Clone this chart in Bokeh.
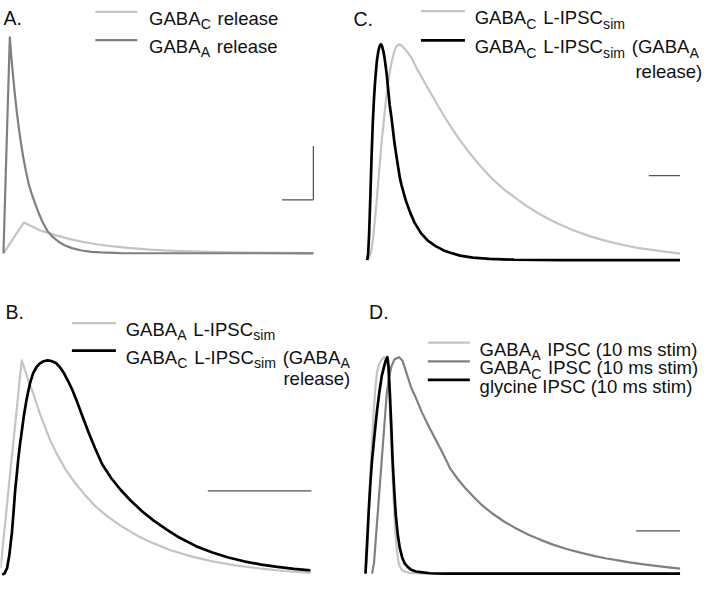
from bokeh.plotting import figure
from bokeh.models import Range1d, Label
from bokeh.layouts import column, row
from bokeh.embed import file_html
from bokeh.resources import INLINE

# ---------------- data (time in ms, amplitude normalised to peak) ----------------
# Panel A: transmitter release profiles
a_t_gabaA_rel = [0, 6.5, 8, 10, 12, 14, 16, 18, 20.5, 23, 26, 29, 32, 36, 40, 45, 50, 56, 63, 70, 80, 90, 100, 120, 317]
a_y_gabaA_rel = [0, 1.0, 0.915, 0.814, 0.724, 0.643, 0.572, 0.508, 0.439, 0.38, 0.318, 0.274, 0.236, 0.187, 0.145,
                 0.104, 0.077, 0.055, 0.036, 0.024, 0.013, 0.007, 0.004, 0.001, 0]
a_t_gabaC_rel = [0, 10, 21, 25, 30, 37, 45, 54, 65, 80, 95, 110, 130, 150, 175, 200, 230, 260, 290, 317]
a_y_gabaC_rel = [0, 0.068, 0.143, 0.134, 0.123, 0.107, 0.096, 0.083, 0.069, 0.054, 0.042, 0.033, 0.024, 0.017,
                 0.011, 0.0075, 0.0045, 0.0028, 0.0017, 0.001]

# Panel B
b_t_gabaA = [0, 5, 10, 15, 19, 21.7, 25, 29, 33.3, 40, 50, 58, 66.7, 76, 86.7, 98, 110, 125, 140, 156, 173.3, 195,
             216.7, 240, 266.7, 290, 317]
b_y_gabaA = [0.03, 0.25, 0.48, 0.7, 0.88, 1.0, 0.955, 0.9, 0.848, 0.755, 0.636, 0.56, 0.49, 0.43, 0.37, 0.315, 0.27,
             0.222, 0.182, 0.147, 0.115, 0.085, 0.062, 0.043, 0.028, 0.017, 0.008]
b_t_gabaC = [1.7, 4, 6.7, 9, 11.7, 13.3, 15, 16.7, 18.3, 20, 21.7, 24, 26.7, 30, 33.3, 36.7, 40, 44, 48.3, 52, 56.7,
             61, 65, 69, 73.3, 78, 83.3, 90, 96.7, 104, 113.3, 123, 133.3, 145, 156.7, 170, 183.3, 200, 216.7, 233,
             250, 266.7, 283.3, 300, 317]
b_y_gabaC = [0, 0.005, 0.03, 0.09, 0.197, 0.29, 0.394, 0.47, 0.545, 0.61, 0.667, 0.745, 0.818, 0.89, 0.939, 0.968,
             0.985, 0.996, 1.0, 0.997, 0.988, 0.967, 0.94, 0.905, 0.864, 0.81, 0.745, 0.665, 0.59, 0.515, 0.45,
             0.395, 0.345, 0.295, 0.252, 0.21, 0.172, 0.133, 0.103, 0.08, 0.061, 0.047, 0.036, 0.027, 0.02]

# Panel C
c_t_gabaC = [0, 2, 4, 6, 8.3, 10, 11.7, 13.5, 15, 16.7, 18.5, 20, 21.7, 23.5, 25, 27, 28.3, 30, 32.7, 35, 38, 41, 45,
             51.7, 61.7, 70, 78.3, 86.7, 95, 105, 115, 128.3, 140, 152, 161.7, 175, 185, 195, 210, 228.3, 245, 261.7,
             278, 295, 308, 320]
c_y_gabaC = [0, 0.01, 0.04, 0.1, 0.204, 0.29, 0.38, 0.48, 0.56, 0.63, 0.71, 0.77, 0.83, 0.88, 0.915, 0.955, 0.975,
             0.99, 1.0, 0.995, 0.98, 0.965, 0.94, 0.88, 0.8, 0.735, 0.67, 0.61, 0.555, 0.495, 0.44, 0.375, 0.327,
             0.287, 0.255, 0.217, 0.192, 0.17, 0.14, 0.11, 0.088, 0.07, 0.056, 0.045, 0.037, 0.03]
c_t_gabaC_Arel = [0, 1, 2, 3.3, 4.5, 5.7, 7, 8.3, 10, 11.5, 12.8, 14, 15.3, 16.7, 18, 19.3, 20, 21.5, 23, 25, 26.7, 28,
                  30, 31.7, 33.5, 35, 38.3, 40, 44, 48.3, 55, 62, 70, 78.3, 85, 95, 108, 125, 150, 200, 320]
c_y_gabaC_Arel = [0, 0.03, 0.12, 0.3, 0.48, 0.63, 0.75, 0.84, 0.925, 0.97, 0.992, 1.0, 0.99, 0.965, 0.93, 0.885,
                  0.86, 0.79, 0.72, 0.655, 0.59, 0.54, 0.48, 0.43, 0.38, 0.35, 0.295, 0.27, 0.22, 0.175, 0.125, 0.09,
                  0.065, 0.045, 0.034, 0.021, 0.012, 0.006, 0.002, 0, 0]

# Panel D
d_t_gabaA = [0.3, 2, 3.5, 5.3, 7, 8.7, 10.3, 12, 14.5, 17, 19.5, 22, 23.5, 25.3, 26.7, 28, 29.2, 30.3, 31.5, 32.7, 34,
             35.3, 37.5, 40.3, 45, 55, 322]
d_y_gabaA = [0, 0.1, 0.26, 0.45, 0.61, 0.75, 0.85, 0.93, 0.97, 0.99, 1.0, 0.995, 0.95, 0.753, 0.6, 0.453, 0.33, 0.228,
             0.15, 0.093, 0.055, 0.033, 0.018, 0.01, 0.004, 0.001, 0]
d_t_gabaC = [7, 9, 12, 14.5, 17, 19.5, 22, 24.5, 27, 30, 34.7, 38, 42, 47, 52, 58, 65.3, 72, 80, 87, 95, 102, 111, 120,
             130, 142, 155, 167, 180, 192, 206, 220, 235, 247, 260, 272, 285, 297, 310, 322]
d_y_gabaC = [0, 0.05, 0.23, 0.38, 0.53, 0.68, 0.83, 0.91, 0.96, 0.99, 1.0, 0.985, 0.93, 0.86, 0.81, 0.745, 0.678,
             0.62, 0.55, 0.485, 0.435, 0.397, 0.354, 0.314, 0.278, 0.241, 0.207, 0.18, 0.155, 0.134, 0.114, 0.097,
             0.081, 0.07, 0.06, 0.051, 0.043, 0.036, 0.029, 0.023]
d_t_gly = [0.3, 2, 3.7, 5.3, 7, 9.5, 12, 14.5, 17, 19.5, 21, 22.7, 23.8, 25.3, 26.7, 28, 29.6, 31.3, 33.3, 35.3, 37.8,
           40.3, 43.7, 47, 52, 58.7, 66, 80, 322]
d_y_gly = [0, 0.15, 0.3, 0.42, 0.525, 0.64, 0.75, 0.84, 0.915, 0.96, 0.985, 1.0, 0.96, 0.825, 0.68, 0.525, 0.39, 0.27,
           0.18, 0.12, 0.075, 0.048, 0.03, 0.018, 0.01, 0.006, 0.002, 0, 0]

# scale bars (ms / normalised amplitude)
sb_A_ms, sb_A_amp = 32, 0.25
sb_B_ms = 106
sb_C_ms = 32
sb_D_ms = 45

# ---------------- styling ----------------
LIGHT = "#c4c4c4"
DARK = "#808080"
BLACK = "#000000"
TXT = "#111111"
FONT = "Liberation Sans"
FS = 19.0      # main text size (reference px)
SFS = 14.5     # subscript size
SUBDROP = 6.0  # subscript baseline drop
SUBGAP = 1.5   # extra gap after a subscript
FSCALE = 0.975

W = {'G': .778, 'A': .667, 'B': .667, 'C': .722, 'D': .722, ' ': .278, 'r': .333, 'e': .556, 'l': .222, 'a': .556,
     's': .5, 'L': .556, '-': .333, 'I': .278, 'P': .667, 'S': .667, 'i': .222, 'm': .833, '(': .333, ')': .333,
     'g': .556, 'y': .5, 'c': .5, 'n': .556, '1': .556, '0': .556, 't': .278, '.': .278}


def tw(s, f):
    return sum(W.get(ch, .556) for ch in s) * f


def make_panel(box, out_w, out_h, t0X, baseY, hpk):
    X0, X1, Y0, Y1 = box
    p = figure(width=out_w, height=out_h,
               x_range=Range1d(X0 - t0X, X1 - t0X),
               y_range=Range1d((baseY - Y1) / hpk, (baseY - Y0) / hpk),
               output_backend="svg", toolbar_location=None, tools="",
               min_border=0, x_axis_location=None, y_axis_location=None,
               outline_line_color=None, background_fill_color="white",
               border_fill_color="white")
    p.grid.visible = False
    cx = lambda X: X - t0X
    cy = lambda Y: (baseY - Y) / hpk
    return p, cx, cy


def seg_width(parts, fs):
    return sum(tw(t, SFS if sub else fs) + (SUBGAP if sub else 0) for t, sub in parts)


def rich(p, cx, cy, X, Yb, parts, align="left", fs=FS, color=TXT):
    x = X if align == "left" else X - seg_width(parts, fs)
    for t, sub in parts:
        f = SFS if sub else fs
        yb = Yb + SUBDROP if sub else Yb
        stripped = t.lstrip(" ")
        x += tw(t[:len(t) - len(stripped)], f)
        p.add_layout(Label(x=cx(x), y=cy(yb), text=stripped, text_font=FONT,
                           text_font_size=f"{f * FSCALE:.1f}px", text_baseline="alphabetic",
                           text_align="left", text_color=color))
        x += tw(stripped, f) + (SUBGAP if sub else 0)


def legend_line(p, cx, cy, X0, X1, Y, color, lw):
    p.segment(x0=[cx(X0)], y0=[cy(Y)], x1=[cx(X1)], y1=[cy(Y)], line_color=color, line_width=lw)


LW_G, LW_K = 2.2, 2.7

# ---------------- Panel A ----------------
pA, cx, cy = make_panel((0, 360, 0, 290), 352, 282, 3, 260, 222)
pA.line(a_t_gabaC_rel, a_y_gabaC_rel, line_color=LIGHT, line_width=LW_G, line_join="round")
pA.line(a_t_gabaA_rel, a_y_gabaA_rel, line_color=DARK, line_width=LW_G, line_join="round")
cornerX, cornerY = cx(320), cy(205)
pA.segment(x0=[cornerX, cornerX - sb_A_ms], y0=[cornerY, cornerY], x1=[cornerX, cornerX],
           y1=[cornerY + sb_A_amp, cornerY], line_color="#555555", line_width=1.3)
rich(pA, cx, cy, 3, 18.5, [("A.", 0)], fs=20)
legend_line(pA, cx, cy, 97, 140, 11.7, LIGHT, LW_G)
legend_line(pA, cx, cy, 97, 140, 40.7, DARK, LW_G)
rich(pA, cx, cy, 152, 18.3, [("GABA", 0), ("C", 1), (" release", 0)])
rich(pA, cx, cy, 152, 47.3, [("GABA", 0), ("A", 1), (" release", 0)])

# ---------------- Panel C ----------------
pC, cx, cy = make_panel((360, 720, 0, 290), 352, 282, 375, 267, 222)
pC.line(c_t_gabaC, c_y_gabaC, line_color=LIGHT, line_width=LW_G, line_join="round")
pC.line(c_t_gabaC_Arel, c_y_gabaC_Arel, line_color=BLACK, line_width=LW_K, line_join="round")
pC.segment(x0=[cx(695) - sb_C_ms], y0=[cy(180)], x1=[cx(695)], y1=[cy(180)], line_color="#555555", line_width=1.3)
rich(pC, cx, cy, 361, 19, [("C.", 0)], fs=20)
legend_line(pC, cx, cy, 430, 475, 11, LIGHT, LW_G)
legend_line(pC, cx, cy, 430, 475, 41, BLACK, LW_K)
rich(pC, cx, cy, 485, 17.8, [("GABA", 0), ("C", 1), (" L-IPSC", 0), ("sim", 1)])
rich(pC, cx, cy, 485, 47.8, [("GABA", 0), ("C", 1), (" L-IPSC", 0), ("sim", 1), (" (GABA", 0), ("A", 1)])
rich(pC, cx, cy, 718, 72.5, [("release)", 0)], align="right")

# ---------------- Panel B ----------------
pB, cx, cy = make_panel((0, 360, 290, 595), 352, 297, 0, 590, 220)
pB.line(b_t_gabaA, b_y_gabaA, line_color=LIGHT, line_width=LW_G, line_join="round")
pB.line(b_t_gabaC, b_y_gabaC, line_color=BLACK, line_width=LW_K, line_join="round")
pB.segment(x0=[cx(318) - sb_B_ms], y0=[cy(504)], x1=[cx(318)], y1=[cy(504)], line_color="#555555", line_width=1.3)
rich(pB, cx, cy, 5, 320, [("B.", 0)], fs=20)
legend_line(pB, cx, cy, 73, 118, 331.7, LIGHT, LW_G)
legend_line(pB, cx, cy, 73, 118, 360, BLACK, LW_K)
rich(pB, cx, cy, 128, 338.3, [("GABA", 0), ("A", 1), (" L-IPSC", 0), ("sim", 1)])
rich(pB, cx, cy, 128, 366.6, [("GABA", 0), ("C", 1), (" L-IPSC", 0), ("sim", 1), (" (GABA", 0), ("A", 1)])
rich(pB, cx, cy, 358, 388.5, [("release)", 0)], align="right")

# ---------------- Panel D ----------------
pD, cx, cy = make_panel((360, 720, 290, 595), 352, 297, 373, 589, 222.3)
pD.line(d_t_gabaA, d_y_gabaA, line_color=LIGHT, line_width=LW_G, line_join="round")
pD.line(d_t_gabaC, d_y_gabaC, line_color=DARK, line_width=LW_G, line_join="round")
pD.line(d_t_gly, d_y_gly, line_color=BLACK, line_width=LW_K, line_join="round")
pD.segment(x0=[cx(695) - sb_D_ms], y0=[cy(545)], x1=[cx(695)], y1=[cy(545)], line_color="#555555", line_width=1.3)
rich(pD, cx, cy, 377, 320, [("D.", 0)], fs=20)
legend_line(pD, cx, cy, 437, 480, 351.7, LIGHT, LW_G)
legend_line(pD, cx, cy, 437, 480, 371, DARK, LW_G)
legend_line(pD, cx, cy, 437, 480, 390, BLACK, LW_K)
rich(pD, cx, cy, 490, 358.3, [("GABA", 0), ("A", 1), (" IPSC (10 ms stim)", 0)])
rich(pD, cx, cy, 490, 377.6, [("GABA", 0), ("C", 1), (" IPSC (10 ms stim)", 0)])
rich(pD, cx, cy, 490, 396.6, [("glycine IPSC (10 ms stim)", 0)])

layout = column(row(pA, pC, spacing=0), row(pB, pD, spacing=0), spacing=0)
open("out.html", "w").write(file_html(layout, INLINE))
